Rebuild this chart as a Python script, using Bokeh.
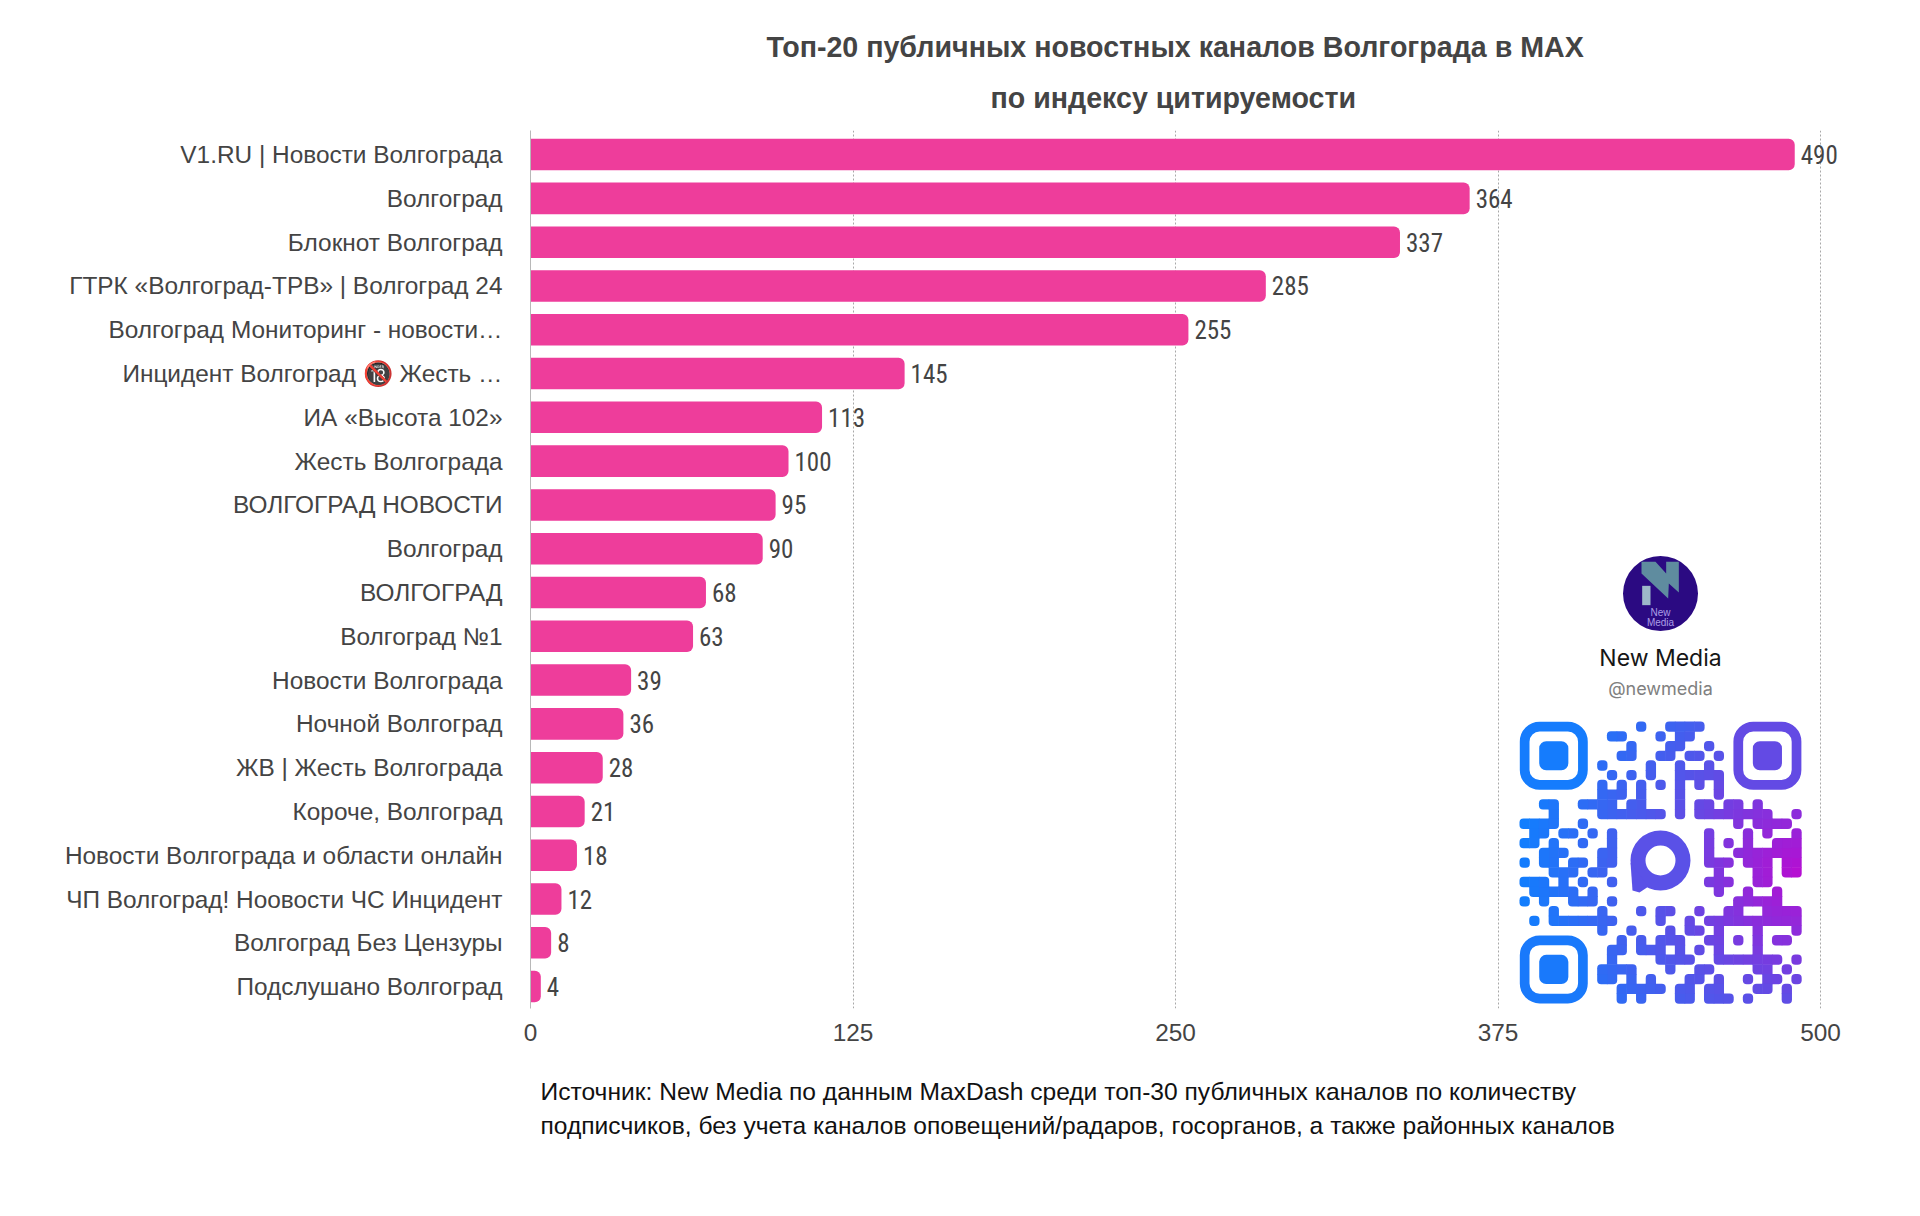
from bokeh.plotting import figure
from bokeh.models import Range1d, FixedTicker, Label, LabelSet, ColumnDataSource, Title
from bokeh.core.properties import value
from bokeh.embed import file_html
from bokeh.resources import INLINE
import math

# ---- data ----
channels = [
    "V1.RU | Новости Волгограда", "Волгоград", "Блокнот Волгоград",
    "ГТРК «Волгоград-ТРВ» | Волгоград 24", "Волгоград Мониторинг - новости…",
    "Инцидент Волгоград 🔞 Жесть …", "ИА «Высота 102»", "Жесть Волгограда",
    "ВОЛГОГРАД НОВОСТИ", "Волгоград", "ВОЛГОГРАД", "Волгоград №1",
    "Новости Волгограда", "Ночной Волгоград", "ЖВ | Жесть Волгограда",
    "Короче, Волгоград", "Новости Волгограда и области онлайн",
    "ЧП Волгоград! Ноовости ЧС Инцидент", "Волгоград Без Цензуры", "Подслушано Волгоград",
]
citation = [490, 364, 337, 285, 255, 145, 113, 100, 95, 90, 68, 63, 39, 36, 28, 21, 18, 12, 8, 4]
x_ticks = [0, 125, 250, 375, 500]
title_lines = ["Топ-20 публичных новостных каналов Волгограда в MAX", "по индексу цитируемости"]
source_text = ("Источник: New Media по данным MaxDash среди топ-30 публичных каналов по количеству\n"
               "подписчиков, без учета каналов оповещений/радаров, госорганов, а также районных каналов")

# QR modules: per row, the columns that are dark (finder patterns excluded)
qr_rows = [
    [12, 15, 16, 17, 18],
    [9, 10, 14, 16, 17],
    [11, 15, 16, 19],
    [10, 11, 14, 15, 17, 18, 20],
    [8, 13, 16, 19],
    [9, 11, 13, 16, 17, 18, 19, 20],
    [8, 10, 12, 14, 16, 18, 20],
    [8, 9, 10, 12, 16, 20],
    [2, 3, 6, 7, 8, 9, 11, 12, 16, 18, 19, 21, 22, 24],
    [3, 8, 9, 10, 11, 12, 13, 14, 16, 18, 19, 20, 21, 22, 23, 24, 25, 28],
    [0, 1, 2, 3, 6, 22, 24, 25, 26, 27],
    [1, 2, 4, 5, 7, 9, 19, 23, 25, 28],
    [0, 1, 3, 6, 9, 19, 21, 23, 26, 27, 28],
    [2, 3, 4, 8, 9, 19, 22, 23, 24, 25, 26, 27, 28],
    [0, 2, 3, 5, 6, 8, 9, 19, 20, 21, 23, 24, 25, 27, 28],
    [3, 4, 5, 7, 8, 20, 24, 25, 27, 28],
    [0, 1, 2, 4, 6, 9, 19, 20, 21, 24, 25],
    [1, 2, 3, 4, 5, 7, 20, 23, 26],
    [0, 2, 5, 6, 7, 9, 22, 23, 24, 25, 26],
    [3, 8, 12, 14, 15, 18, 21, 22, 25, 26, 27, 28],
    [1, 3, 4, 5, 6, 7, 8, 9, 14, 17, 19, 20, 21, 22, 23, 24, 25, 26, 27, 28],
    [8, 11, 15, 17, 18, 20, 24, 28],
    [10, 12, 14, 15, 16, 19, 20, 22, 24, 26, 27],
    [9, 10, 12, 13, 14, 16, 18, 20, 24],
    [9, 14, 15, 16, 17, 20, 21, 22, 23, 24, 25, 26, 28],
    [8, 9, 10, 11, 15, 18, 19, 24, 25, 27],
    [8, 9, 11, 13, 17, 18, 20, 23, 25, 26, 28],
    [10, 11, 12, 13, 14, 16, 17, 19, 20, 24, 25, 27],
    [10, 12, 16, 17, 19, 20, 21, 23, 27],
]
qr_finders = [(0, 0), (22, 0), (0, 22)]

# ---- layout ----
PINK = "#EE3D9B"
INK = "#444444"
FONT = "Liberation Sans"
FX0, FX1, FY0, FY1 = 530, 1859, 130, 1008
W, H = 1900, 1200

p = figure(width=W, height=H, output_backend="svg", toolbar_location=None, title=None,
           x_range=Range1d(0, 515.1), y_range=Range1d(19.5, -0.55),
           min_border_left=FX0, min_border_right=W - FX1,
           min_border_top=FY0, min_border_bottom=H - FY1,
           background_fill_color="white", border_fill_color="white", outline_line_color=None)
# overlay range in page pixels, used for the decorative QR block and avatar
p.extra_x_ranges["page"] = Range1d(FX0, FX1)
p.extra_y_ranges["page"] = Range1d(FY1, FY0)

for line, gap, off in zip(reversed(title_lines), (34, 0), (460, 236)):
    p.add_layout(Title(text=line, align="left", offset=off, text_font=FONT, text_font_size="28.6px",
                       text_font_style="bold", text_color=INK, standoff=gap, text_line_height=1.3), "above")
p.add_layout(Title(text=source_text, align="left", offset=10, text_font=FONT, text_font_size="24.6px",
                   text_font_style="normal", text_color="#111111", text_line_height=1.25, standoff=65), "below")

p.ygrid.visible = False
p.xgrid.ticker = FixedTicker(ticks=x_ticks)
p.xgrid.grid_line_color = "#a8a8a8"
p.xgrid.grid_line_dash = "2 2"
p.xgrid.grid_line_width = 1

ax = p.xaxis[0]
ax.ticker = FixedTicker(ticks=x_ticks)
ax.axis_line_color = None
ax.major_tick_line_color = None
ax.minor_tick_line_color = None
ax.major_tick_out = 0
ax.major_label_standoff = 15
ax.major_label_text_font = FONT
ax.major_label_text_font_size = "24.4px"
ax.major_label_text_color = INK

ay = p.yaxis[0]
ay.ticker = FixedTicker(ticks=list(range(len(channels))))
ay.major_label_overrides = {i: c for i, c in enumerate(channels)}
ay.axis_line_color = "#b8b8b8"
ay.axis_line_width = 1
ay.major_tick_line_color = None
ay.minor_tick_line_color = None
ay.major_tick_out = 0
ay.major_label_standoff = 28
ay.major_label_text_font = FONT
ay.major_label_text_font_size = "24.4px"
ay.major_label_text_color = INK

src = ColumnDataSource(dict(y=list(range(len(channels))), v=citation, t=[str(v) for v in citation]))
p.hbar(y="y", left=0, right="v", height=0.72, source=src, fill_color=PINK, line_color=None,
       border_radius=(0, 6, 6, 0))
p.add_layout(LabelSet(x="v", y="y", text="t", source=src, x_offset=6, text_baseline="middle", text_align="left",
                      text_font=value("Roboto Condensed, DejaVu Sans Condensed, Liberation Sans"),
                      text_font_size="25px", text_color=INK))

# ---- QR block ----
QX, QY, M = 1519.3, 721.3, 9.71

def mix(a, b, t):
    return tuple(a[i] + (b[i] - a[i]) * t for i in range(3))

def qr_color(c, r):
    d = min(1.0, math.hypot(c - 28, r - 15) / 29)
    mid = (0x5f, 0x4e, 0xe6)
    if d < 0.45:
        rgb = mix((0xb5, 0x0f, 0xd2), mid, d / 0.45)
    else:
        rgb = mix(mid, (0x0f, 0x80, 0xff), (d - 0.45) / 0.55)
    return "#%02x%02x%02x" % tuple(int(v) for v in rgb)

dark = {(c, r) for r, cols in enumerate(qr_rows) for c in cols}
groups = {}
for c, r in dark:
    u, d, l, e = (c, r - 1) in dark, (c, r + 1) in dark, (c - 1, r) in dark, (c + 1, r) in dark
    key = (not u and not l, not u and not e, not d and not e, not d and not l)
    groups.setdefault(key, []).append((c, r))
for key, cells in groups.items():
    rad = tuple(4 if k else 0 for k in key)
    p.quad(left=[QX + c * M - 0.3 for c, r in cells], right=[QX + (c + 1) * M + 0.3 for c, r in cells],
           top=[QY + r * M - 0.3 for c, r in cells], bottom=[QY + (r + 1) * M + 0.3 for c, r in cells],
           fill_color=[qr_color(c, r) for c, r in cells], line_color=None, border_radius=rad,
           x_range_name="page", y_range_name="page")
for fc, fr in qr_finders:
    col = qr_color(fc + 3, fr + 3)
    p.quad(left=[QX + (fc + 0.5) * M], right=[QX + (fc + 6.5) * M], top=[QY + (fr + 0.5) * M],
           bottom=[QY + (fr + 6.5) * M], fill_color=None, line_color=col, line_width=M,
           border_radius=15, x_range_name="page", y_range_name="page")
    p.quad(left=[QX + (fc + 2) * M], right=[QX + (fc + 5) * M], top=[QY + (fr + 2) * M],
           bottom=[QY + (fr + 5) * M], fill_color=col, line_color=None,
           border_radius=7, x_range_name="page", y_range_name="page")
# messenger mark in the middle
LX, LY = 1660, 860
logo = qr_color(14, 14)
p.annulus(x=[LX], y=[LY], inner_radius=15, outer_radius=30, inner_radius_units="screen",
          outer_radius_units="screen", fill_color=logo, line_color=None,
          x_range_name="page", y_range_name="page")
p.patch(x=[LX - 30, LX - 12, LX - 21, LX - 28], y=[LY + 2, LY + 26, LY + 32, LY + 30], fill_color=logo,
        line_color=None, x_range_name="page", y_range_name="page")

# ---- avatar ----
AX, AY = 1660, 593
p.scatter(x=[AX], y=[AY], size=75, marker="circle", fill_color="#2b0a82", line_color=None,
          x_range_name="page", y_range_name="page")
Z = 1 / 3
nx = [78, 120, 152, 152, 190, 190, 160, 158, 78]
ny = [40, 40, 75, 40, 40, 132, 105, 150, 75]
p.patch(x=[1615 + v * Z for v in nx], y=[548 + v * Z for v in ny], fill_color="#5f8c9f", line_color=None,
        x_range_name="page", y_range_name="page")
p.quad(left=[1615 + 80 * Z], right=[1615 + 105 * Z], top=[548 + 112 * Z], bottom=[548 + 170 * Z],
       fill_color="#9db8c9", line_color=None, x_range_name="page", y_range_name="page")

def page_label(x, y, text, size, color, font=FONT):
    p.add_layout(Label(x=x, y=y, text=text, x_units="data", y_units="data", x_range_name="page",
                       y_range_name="page", text_align="center", text_baseline="middle",
                       text_font=font, text_font_size=size, text_color=color))

page_label(AX, 612, "New", "10px", "#ab9de6")
page_label(AX, 622, "Media", "10px", "#ab9de6")
page_label(AX, 657, "New Media", "23px", "#161616", font="Inter")
page_label(AX, 688, "@newmedia", "18px", "#808080", font="Inter")

open("out.html", "w").write(file_html(p, INLINE))
